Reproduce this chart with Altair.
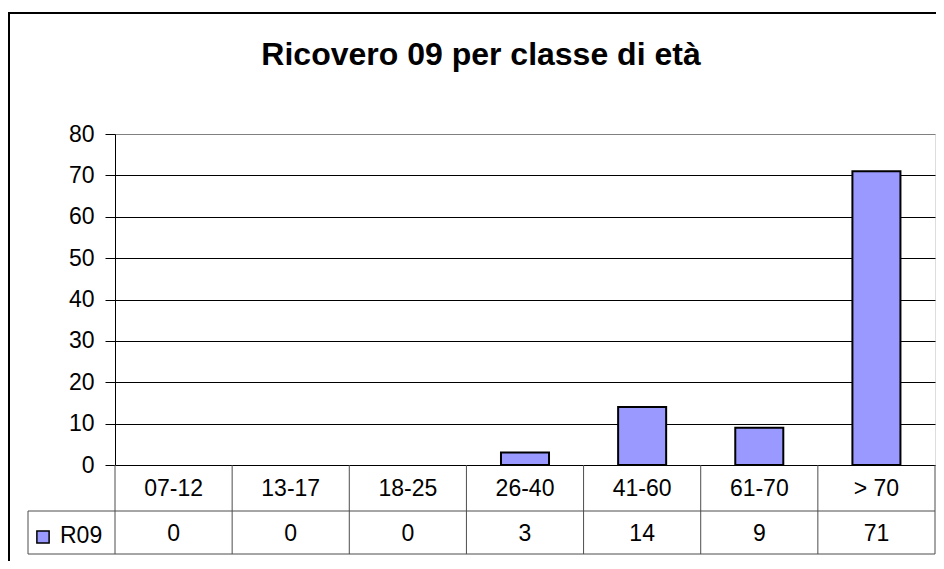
import altair as alt
import pandas as pd

categories = ["07-12", "13-17", "18-25", "26-40", "41-60", "61-70", "> 70"]
values = [0, 0, 0, 3, 14, 9, 71]
series_name = "R09"
y_ticks = [0, 10, 20, 30, 40, 50, 60, 70, 80]
title_text = "Ricovero 09 per classe di età"

FONT = "Liberation Sans"
FS = 23
W, H = 820, 331
ROW1, ROW2, ROW_END = 354.5, 400, 420
LINE = "#4d4d4d"
BAR = "#9999FF"

df = pd.DataFrame({"cat": categories, "val": values})
one = pd.DataFrame({"k": [0]})

xenc = alt.X("cat:N", sort=categories,
             scale=alt.Scale(paddingInner=0, paddingOuter=0), axis=None)

base = alt.Chart(df)

bars = base.mark_bar(fill=BAR, stroke="black", strokeWidth=2,
                     width={"band": 0.41}).encode(
    x=xenc,
    y=alt.Y("val:Q", title=None,
            scale=alt.Scale(domain=[0, 80], nice=False, zero=True),
            axis=alt.Axis(values=y_ticks, tickSize=10, labelPadding=11,
                          labelFont=FONT, labelFontSize=FS, labelColor="black",
                          domainColor="black", tickColor="black",
                          gridColor={"condition": {"test": "datum.value === 80",
                                                   "value": "#808080"},
                                     "value": "black"},
                          gridWidth=1)),
).transform_filter("datum.val > 0")

cat_text = base.mark_text(font=FONT, fontSize=FS, baseline="middle",
                          color="black").encode(
    x=xenc, y=alt.value(ROW1), text="cat:N")

val_text = base.mark_text(font=FONT, fontSize=FS, baseline="middle",
                          color="black").encode(
    x=xenc, y=alt.value(ROW2), text="val:Q")

vlines = base.mark_rule(color=LINE, strokeWidth=1).encode(
    x=alt.X("cat:N", sort=categories, bandPosition=0,
            scale=alt.Scale(paddingInner=0, paddingOuter=0), axis=None),
    y=alt.value(H), y2=alt.value(ROW_END))

deco = alt.Chart(one)
right_line = deco.mark_rule(color=LINE, strokeWidth=1).encode(
    x=alt.value(W), y=alt.value(H), y2=alt.value(ROW_END))
hline1 = deco.mark_rule(color=LINE, strokeWidth=1).encode(
    x=alt.value(-87), x2=alt.value(W), y=alt.value(377))
hline2 = deco.mark_rule(color=LINE, strokeWidth=1).encode(
    x=alt.value(-87), x2=alt.value(W), y=alt.value(ROW_END))
lline = deco.mark_rule(color=LINE, strokeWidth=1).encode(
    x=alt.value(-87), y=alt.value(377), y2=alt.value(ROW_END))
swatch = deco.mark_square(size=150, fill=BAR, stroke="black", strokeWidth=1.5,
                          opacity=1).encode(
    x=alt.value(-72), y=alt.value(403))
legend_text = deco.mark_text(font=FONT, fontSize=FS, baseline="middle",
                             align="left", color="black").encode(
    x=alt.value(-55), y=alt.value(402), text=alt.value(series_name))
title_mark = deco.mark_text(font=FONT, fontSize=32, fontWeight="bold",
                            baseline="alphabetic", align="center",
                            color="black").encode(
    x=alt.value(366), y=alt.value(-69), text=alt.value(title_text))
top_border = deco.mark_rule(color="black", strokeWidth=2).encode(
    x=alt.value(-107), x2=alt.value(W + 1), y=alt.value(-121))
left_border = deco.mark_rule(color="black", strokeWidth=2).encode(
    x=alt.value(-106), y=alt.value(-121), y2=alt.value(427))

chart = alt.layer(
    vlines, right_line, hline1, hline2, lline,
    bars, cat_text, val_text, swatch, legend_text, title_mark,
    top_border, left_border
).properties(
    width=W, height=H,
    autosize=alt.AutoSizeParams(type="none"),
    padding={"left": 107, "top": 126, "right": 1, "bottom": 96},
).configure_view(
    stroke="#808080", strokeWidth=1
).configure_axis(
    domainColor="black", tickColor="black", labelColor="black",
    labelFont=FONT, labelFontSize=FS, domainWidth=1, tickWidth=1
).configure(background="white")

chart.save("out.html", embed_options={"renderer": "svg", "actions": False})
